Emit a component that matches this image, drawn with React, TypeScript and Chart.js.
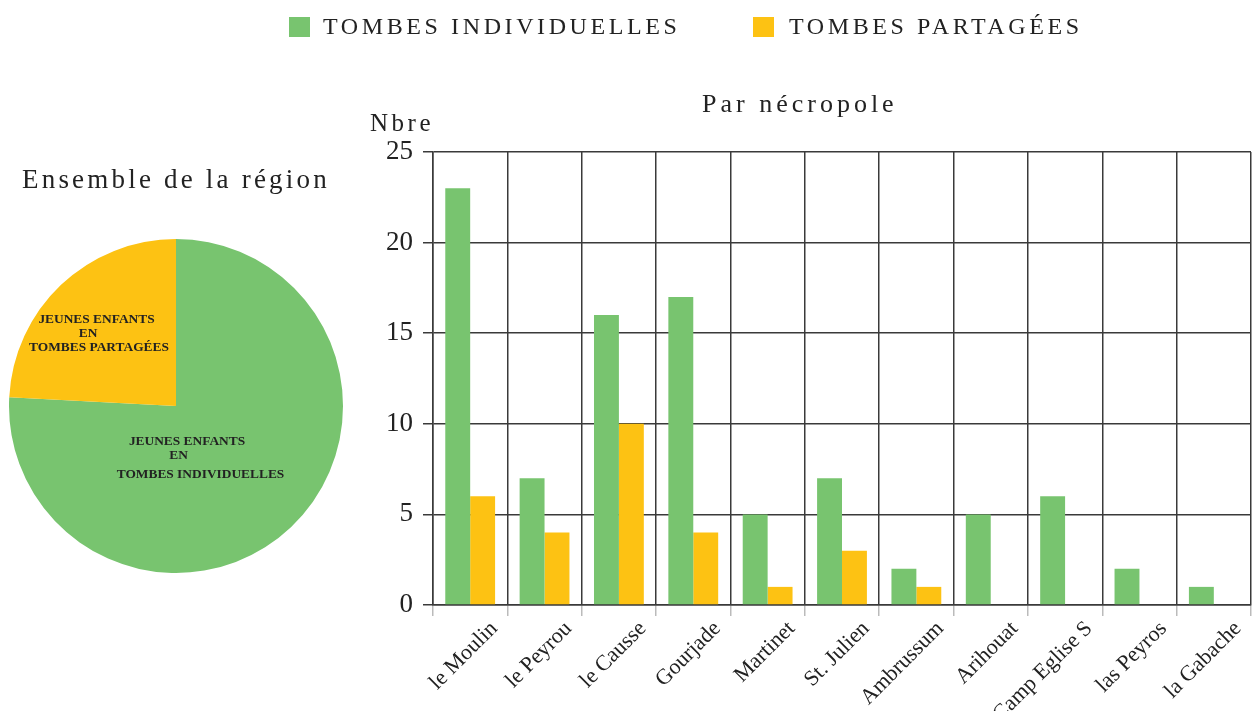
import React, { useEffect, useRef } from "react";
import { Chart, registerables } from "chart.js";

Chart.register(...registerables);

const categories = [
  "le Moulin",
  "le Peyrou",
  "le Causse",
  "Gourjade",
  "Martinet",
  "St. Julien",
  "Ambrussum",
  "Arihouat",
  "Camp Eglise S",
  "las Peyros",
  "la Gabache",
];
const tombesIndividuelles = [23, 7, 16, 17, 5, 7, 2, 5, 6, 2, 1];
const tombesPartagees = [6, 4, 10, 4, 1, 3, 1, 0, 0, 0, 0];

const pieLabels = ["TOMBES INDIVIDUELLES", "TOMBES PARTAGÉES"];
const pieValues = [91, 29];

const yTicks = [0, 5, 10, 15, 20, 25];

const GREEN = "#78C46F";
const YELLOW = "#FDC213";
const SERIF = "'Liberation Serif', 'DejaVu Serif', serif";

export default function App() {
  const barRef = useRef<HTMLCanvasElement | null>(null);
  const pieRef = useRef<HTMLCanvasElement | null>(null);

  useEffect(() => {
    const barChart = new Chart(barRef.current as HTMLCanvasElement, {
      type: "bar",
      data: {
        labels: categories,
        datasets: [
          {
            label: "TOMBES INDIVIDUELLES",
            data: tombesIndividuelles,
            backgroundColor: GREEN,
            barPercentage: 1,
            categoryPercentage: 0.67,
          },
          {
            label: "TOMBES PARTAGÉES",
            data: tombesPartagees,
            backgroundColor: YELLOW,
            barPercentage: 1,
            categoryPercentage: 0.67,
          },
        ],
      },
      options: {
        responsive: false,
        animation: false,
        layout: { padding: { left: 340, top: 152, right: 2, bottom: 0 } },
        plugins: {
          legend: { display: false },
          title: { display: false },
          tooltip: { enabled: false },
        },
        scales: {
          x: {
            afterFit: (s: any) => {
              s.height = 106;
            },
            grid: {
              offset: true,
              color: "#3a3a3a",
              lineWidth: 1.5,
              tickColor: "#bbbbbb",
              tickLength: 11,
            },
            border: { color: "#3a3a3a", width: 1.5 },
            ticks: {
              font: { family: SERIF, size: 22 },
              color: "#222",
              maxRotation: 45,
              minRotation: 45,
              labelOffset: 24,
              padding: 0,
            },
          },
          y: {
            min: 0,
            max: 25,
            afterFit: (s: any) => {
              s.width = 93;
            },
            afterBuildTicks: (s: any) => {
              s.ticks = yTicks.map((v) => ({ value: v }));
            },
            grid: {
              color: "#3a3a3a",
              lineWidth: 1.5,
              tickColor: "#3a3a3a",
              tickLength: 10,
            },
            border: { color: "#3a3a3a", width: 1.5 },
            ticks: {
              font: { family: SERIF, size: 27 },
              color: "#222",
              padding: 10,
            },
          },
        },
      },
    });

    const pieLabelPlugin = {
      id: "pieLabels",
      afterDraw(chart: any) {
        const { ctx, chartArea } = chart;
        const cx = (chartArea.left + chartArea.right) / 2;
        const cy = (chartArea.top + chartArea.bottom) / 2;
        ctx.save();
        ctx.font = `bold 13.4px ${SERIF}`;
        ctx.fillStyle = "#222";
        ctx.textAlign = "center";
        ctx.textBaseline = "middle";
        const lines: [string, number, number][] = [
          ["JEUNES ENFANTS", -79.5, -86],
          ["EN", -88, -72],
          ["TOMBES PARTAGÉES", -77, -58],
          ["JEUNES ENFANTS", 11, 36],
          ["EN", 2.5, 50],
          ["TOMBES INDIVIDUELLES", 24.5, 68.5],
        ];
        lines.forEach(([t, dx, dy]) => ctx.fillText(t, cx + dx, cy + dy));
        ctx.restore();
      },
    };

    const pieChart = new Chart(pieRef.current as HTMLCanvasElement, {
      type: "pie",
      data: {
        labels: pieLabels,
        datasets: [
          {
            data: pieValues,
            backgroundColor: [GREEN, YELLOW],
            borderWidth: 0,
          },
        ],
      },
      options: {
        responsive: false,
        animation: false,
        layout: { padding: 9 },
        plugins: {
          legend: { display: false },
          tooltip: { enabled: false },
        },
      },
      plugins: [pieLabelPlugin],
    });

    return () => {
      barChart.destroy();
      pieChart.destroy();
    };
  }, []);

  const textStyle: React.CSSProperties = {
    position: "absolute",
    fontFamily: SERIF,
    color: "#222",
    whiteSpace: "nowrap",
    lineHeight: 1,
  };

  return (
    <div
      style={{
        position: "absolute",
        left: 0,
        top: 0,
        width: 1253,
        height: 711,
        background: "#fff",
        overflow: "hidden",
      }}
    >
      <canvas
        ref={barRef}
        width={1253}
        height={711}
        style={{ position: "absolute", left: 0, top: 0 }}
      />
      <canvas
        ref={pieRef}
        width={352}
        height={352}
        style={{ position: "absolute", left: 0, top: 230 }}
      />
      {/* Legend */}
      <div
        style={{
          position: "absolute",
          left: 289,
          top: 17,
          width: 21,
          height: 20,
          background: GREEN,
        }}
      />
      <div style={{ ...textStyle, left: 323, top: 14, fontSize: 24, letterSpacing: 3.6 }}>
        TOMBES INDIVIDUELLES
      </div>
      <div
        style={{
          position: "absolute",
          left: 753,
          top: 17,
          width: 21,
          height: 20,
          background: YELLOW,
        }}
      />
      <div style={{ ...textStyle, left: 789, top: 14, fontSize: 24, letterSpacing: 3.6 }}>
        TOMBES PARTAGÉES
      </div>
      {/* Titles */}
      <div style={{ ...textStyle, left: 22, top: 166, fontSize: 27, letterSpacing: 3.2 }}>
        Ensemble de la région
      </div>
      <div style={{ ...textStyle, left: 702, top: 91, fontSize: 26, letterSpacing: 4 }}>
        Par nécropole
      </div>
      <div style={{ ...textStyle, left: 370, top: 110, fontSize: 25, letterSpacing: 3.5 }}>
        Nbre
      </div>
    </div>
  );
}
